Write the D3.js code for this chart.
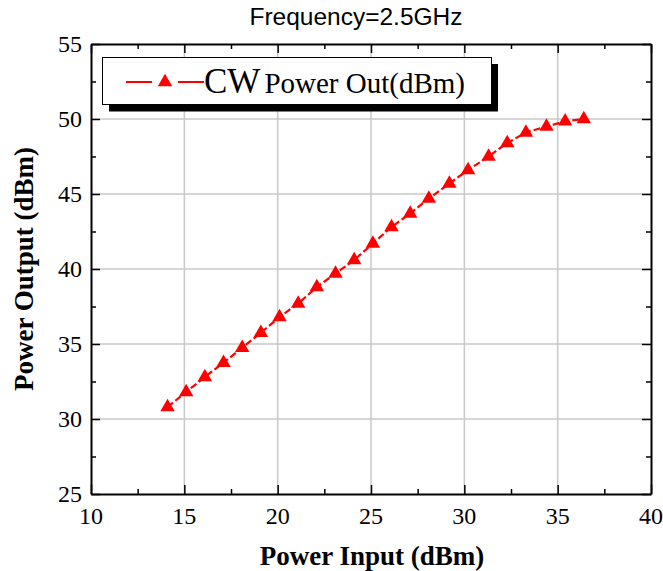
<!DOCTYPE html>
<html>
<head>
<meta charset="utf-8">
<script src="https://cdn.jsdelivr.net/npm/d3@7"></script>
<style>
html,body{margin:0;padding:0;background:#fff;}
svg{display:block;}
</style>
</head>
<body>
<svg id="chart" width="663" height="571"></svg>
<script>
// ---- data ----
const powerIn  = [14.1, 15.1, 16.1, 17.1, 18.1, 19.1, 20.1, 21.1, 22.1, 23.1, 24.1, 25.1, 26.1, 27.1, 28.1, 29.2, 30.2, 31.3, 32.3, 33.3, 34.4, 35.4, 36.4];
const powerOut = [30.8, 31.8, 32.8, 33.75, 34.75, 35.75, 36.8, 37.7, 38.8, 39.7, 40.6, 41.7, 42.8, 43.7, 44.7, 45.7, 46.6, 47.5, 48.4, 49.1, 49.5, 49.85, 50.0];
const xTicks = [10, 15, 20, 25, 30, 35, 40];
const yTicks = [25, 30, 35, 40, 45, 50, 55];
const xMinor = [12.5, 17.5, 22.5, 27.5, 32.5, 37.5];
const yMinor = [27.5, 32.5, 37.5, 42.5, 47.5, 52.5];
const title = "Frequency=2.5GHz";
const xTitle = "Power Input (dBm)";
const yTitle = "Power Output (dBm)";
const legendMain = "CW";
const legendRest = "Power Out(dBm)";

const svg = d3.select("#chart");
const L = 91, R = 651, T = 44, B = 494;
const x = d3.scaleLinear().domain([10, 40]).range([L, R]);
const y = d3.scaleLinear().domain([25, 55]).range([B, T]);

const serif = "'Liberation Serif','Times New Roman',serif";
const sans = "'Liberation Sans',Arial,sans-serif";

// grid
const grid = svg.append("g").attr("stroke", "#c8c8c8").attr("stroke-width", 1.5);
xTicks.slice(1, -1).forEach(v => grid.append("line").attr("x1", x(v)).attr("x2", x(v)).attr("y1", T).attr("y2", B));
yTicks.slice(1, -1).forEach(v => grid.append("line").attr("x1", L).attr("x2", R).attr("y1", y(v)).attr("y2", y(v)));

// axes with inward ticks
function axisGroup(axisFn, scale, tx, ty, ticks, size) {
  const g = svg.append("g").attr("transform", `translate(${tx},${ty})`)
    .call(axisFn(scale).tickValues(ticks).tickSizeInner(size).tickSizeOuter(0).tickFormat(""));
  g.select(".domain").attr("stroke", "#000").attr("stroke-width", 2);
  g.selectAll(".tick line").attr("stroke", "#000").attr("stroke-width", 1.5);
  return g;
}
axisGroup(d3.axisTop, x, 0, B, xTicks, 9);
axisGroup(d3.axisTop, x, 0, B, xMinor, 5).select(".domain").remove();
axisGroup(d3.axisBottom, x, 0, T, xTicks, 9);
axisGroup(d3.axisBottom, x, 0, T, xMinor, 5).select(".domain").remove();
axisGroup(d3.axisRight, y, L, 0, yTicks, 9);
axisGroup(d3.axisRight, y, L, 0, yMinor, 5).select(".domain").remove();
axisGroup(d3.axisLeft, y, R, 0, yTicks, 9);
axisGroup(d3.axisLeft, y, R, 0, yMinor, 5).select(".domain").remove();

// tick labels
svg.append("g").selectAll("text").data(xTicks).join("text")
  .attr("x", d => x(d)).attr("y", B + 30)
  .attr("text-anchor", "middle").attr("font-family", serif).attr("font-size", 24)
  .text(d => d);
svg.append("g").selectAll("text").data(yTicks).join("text")
  .attr("x", L - 9).attr("y", d => y(d) + 8)
  .attr("text-anchor", "end").attr("font-family", serif).attr("font-size", 24)
  .text(d => d);

// axis titles
svg.append("text").attr("x", (L + R) / 2 + 1).attr("y", 565)
  .attr("text-anchor", "middle").attr("font-family", serif).attr("font-weight", "bold").attr("font-size", 27)
  .text(xTitle);
svg.append("text").attr("transform", `translate(33,${(T + B) / 2}) rotate(-90)`)
  .attr("text-anchor", "middle").attr("font-family", serif).attr("font-weight", "bold").attr("font-size", 27)
  .text(yTitle);

// title
svg.append("text").attr("x", 356).attr("y", 25)
  .attr("text-anchor", "middle").attr("font-family", sans).attr("font-size", 24.5)
  .text(title);

// data line
const data = powerIn.map((v, i) => ({x: v, y: powerOut[i]}));
svg.append("path").datum(data)
  .attr("fill", "none").attr("stroke", "#ff0000").attr("stroke-width", 2.2)
  .attr("stroke-dasharray", "7,3")
  .attr("d", d3.line().x(d => x(d.x)).y(d => y(d.y)));
const tri = d3.symbol().type(d3.symbolTriangle).size(90);
svg.append("g").selectAll("path").data(data).join("path")
  .attr("transform", d => `translate(${x(d.x)},${y(d.y)})`)
  .attr("d", tri).attr("fill", "#ff0000");

// legend
const lg = svg.append("g");
lg.append("rect").attr("x", 109).attr("y", 64).attr("width", 389).attr("height", 47.5).attr("fill", "#000");
lg.append("rect").attr("x", 102.5).attr("y", 57.5).attr("width", 389).attr("height", 47).attr("fill", "#fff").attr("stroke", "#000").attr("stroke-width", 1);
lg.append("line").attr("x1", 126).attr("x2", 152).attr("y1", 82).attr("y2", 82).attr("stroke", "#ff0000").attr("stroke-width", 2);
lg.append("line").attr("x1", 178).attr("x2", 204).attr("y1", 82).attr("y2", 82).attr("stroke", "#ff0000").attr("stroke-width", 2);
lg.append("path").attr("transform", "translate(165,82)").attr("d", tri).attr("fill", "#ff0000");
const lt = lg.append("text").attr("x", 204).attr("y", 93).attr("font-family", serif);
lt.append("tspan").attr("font-size", 35).text(legendMain);
lt.append("tspan").attr("font-size", 29).attr("dx", 4).text(legendRest);
</script>
</body>
</html>
